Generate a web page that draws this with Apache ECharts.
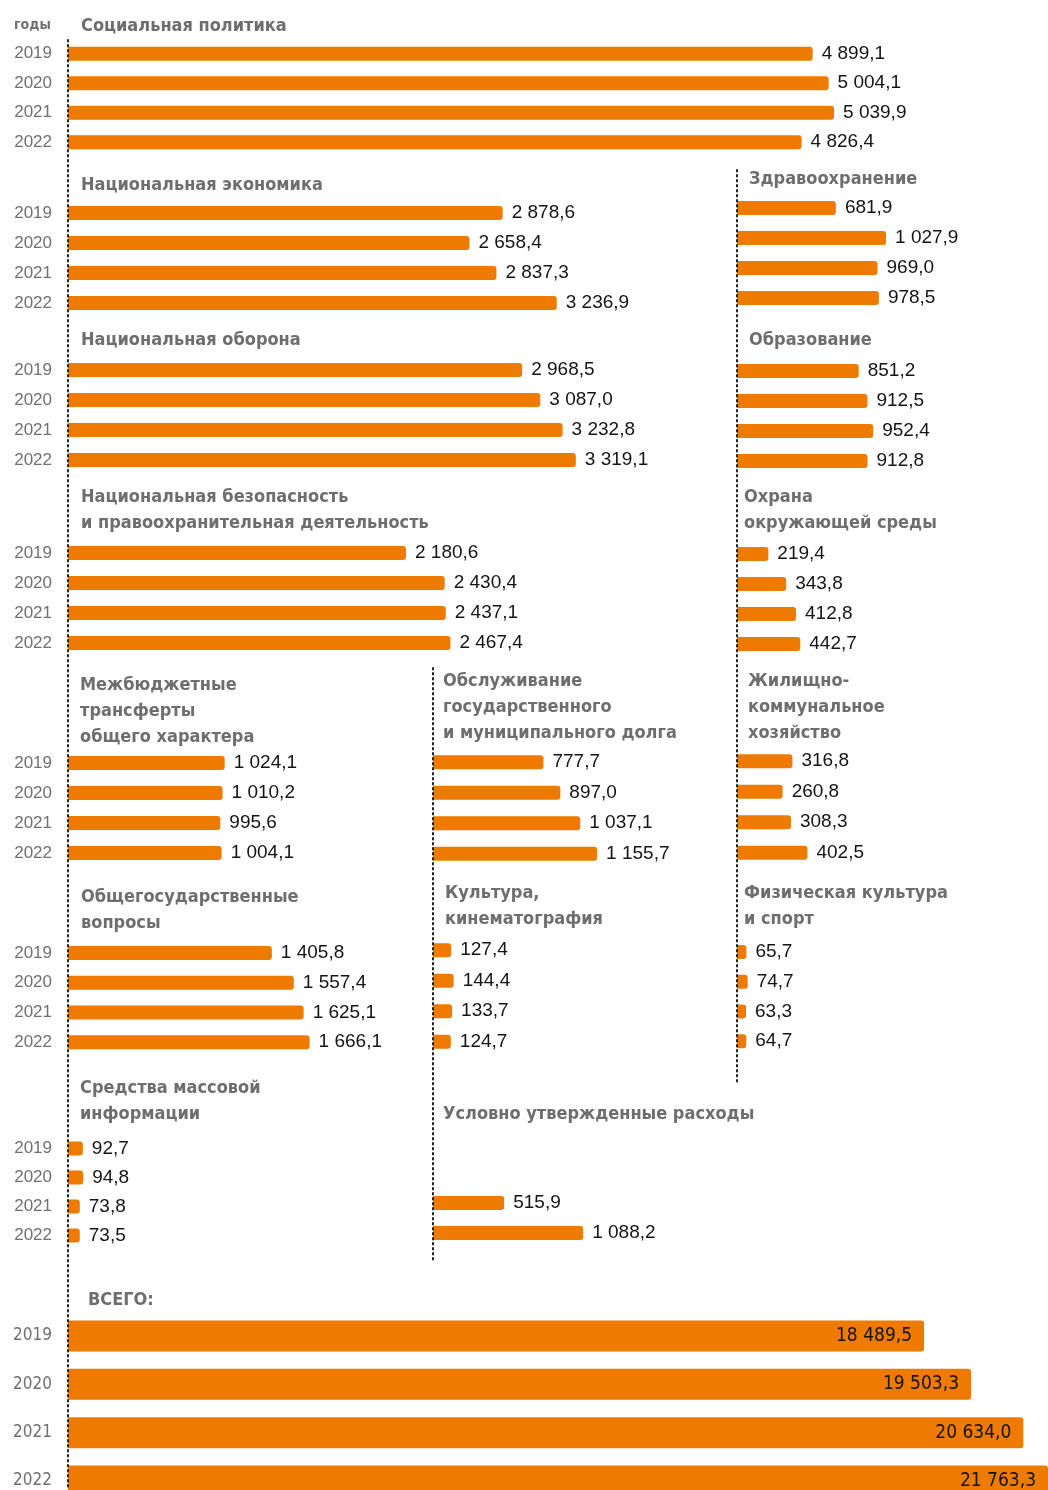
<!DOCTYPE html>
<html>
<head>
<meta charset="utf-8">
<script src="https://cdn.jsdelivr.net/npm/echarts@6/dist/echarts.min.js"></script>
<style>
  html, body { margin: 0; padding: 0; background: #fff; }
  #chart { width: 1048px; height: 1490px; }
</style>
</head>
<body>
<div id="chart"></div>
<script>
// годы
const years = ['2019', '2020', '2021', '2022'];

// расходы по разделам, млрд руб.
const socialPolicy = [4899.1, 5004.1, 5039.9, 4826.4];
const nationalEconomy = [2878.6, 2658.4, 2837.3, 3236.9];
const healthcare = [681.9, 1027.9, 969.0, 978.5];
const defense = [2968.5, 3087.0, 3232.8, 3319.1];
const education = [851.2, 912.5, 952.4, 912.8];
const security = [2180.6, 2430.4, 2437.1, 2467.4];
const environment = [219.4, 343.8, 412.8, 442.7];
const transfers = [1024.1, 1010.2, 995.6, 1004.1];
const debtService = [777.7, 897.0, 1037.1, 1155.7];
const housing = [316.8, 260.8, 308.3, 402.5];
const generalIssues = [1405.8, 1557.4, 1625.1, 1666.1];
const culture = [127.4, 144.4, 133.7, 124.7];
const sport = [65.7, 74.7, 63.3, 64.7];
const media = [92.7, 94.8, 73.8, 73.5];
const conditional = [null, null, 515.9, 1088.2];
const total = [18489.5, 19503.3, 20634.0, 21763.3];

const ORANGE = '#ee7a00';
const NARROW = "'Liberation Sans Narrow','DejaVu Sans Condensed',sans-serif";
const SANS = "'Liberation Sans',Arial,sans-serif";

// 4 899,1
function fmt(v) {
    const parts = v.toFixed(1).split('.');
    const int = parts[0].replace(/\B(?=(\d{3})+(?!\d))/g, ' ');
    return int + ',' + parts[1];
}

// раскладка панелей
const panels = [
    { title: 'Социальная политика', values: socialPolicy, left: 68, top: 39, h: 118, tx: 81, ty: 26, years: true, scale: 0.152 },
    { title: 'Национальная экономика', values: nationalEconomy, left: 68, top: 198, h: 120, tx: 81, ty: 185, years: true, scale: 0.151 },
    { title: 'Здравоохранение', values: healthcare, left: 737, top: 193, h: 120, tx: 749, ty: 179, scale: 0.145 },
    { title: 'Национальная оборона', values: defense, left: 68, top: 355, h: 120, tx: 81, ty: 340, years: true, scale: 0.153 },
    { title: 'Образование', values: education, left: 737, top: 356, h: 120, tx: 749, ty: 340, scale: 0.143 },
    { title: 'Национальная безопасность\nи правоохранительная деятельность', values: security, left: 68, top: 538, h: 120, tx: 81, ty: 497, years: true, scale: 0.155 },
    { title: 'Охрана\nокружающей среды', values: environment, left: 737, top: 539, h: 120, tx: 744, ty: 497, scale: 0.143 },
    { title: 'Межбюджетные\nтрансферты\nобщего характера', values: transfers, left: 68, top: 748, h: 120, tx: 80, ty: 685, years: true, scale: 0.153 },
    { title: 'Обслуживание\nгосударственного\nи муниципального долга', values: debtService, left: 433, top: 747, h: 122, tx: 443, ty: 681, scale: 0.142 },
    { title: 'Жилищно-\nкоммунальное\nхозяйство', values: housing, left: 737, top: 746, h: 122, tx: 748, ty: 681, scale: 0.175 },
    { title: 'Общегосударственные\nвопросы', values: generalIssues, left: 68, top: 938, h: 119, tx: 81, ty: 897, years: true, scale: 0.145 },
    { title: 'Культура,\nкинематография', values: culture, left: 433, top: 935, h: 122, tx: 445, ty: 893, scale: 0.143 },
    { title: 'Физическая культура\nи спорт', values: sport, left: 737, top: 937, h: 119, tx: 744, ty: 893, scale: 0.143 },
    { title: 'Средства массовой\nинформации', values: media, left: 68, top: 1134, h: 116, tx: 80, ty: 1088, years: true, scale: 0.16 },
    { title: 'Условно утвержденные расходы', values: conditional, left: 433, top: 1128, h: 120, tx: 443, ty: 1114, scale: 0.138 },
    // ВСЕГО: крайние категории на границах сетки
    { title: 'ВСЕГО:', values: total, left: 68, top: 1336, h: 145, tx: 88, ty: 1300, years: true, scale: 0.0463, big: true }
];

const chart = echarts.init(document.getElementById('chart'));

const grids = [], xAxes = [], yAxes = [], series = [], titles = [];

panels.forEach((p, i) => {
    const width = p.big ? 980 : (p.left === 68 ? 900 : 300);
    grids.push({ left: p.left, top: p.top, width: width, height: p.h });
    xAxes.push({
        type: 'value', gridIndex: i, min: 0, max: width / p.scale,
        show: false
    });
    yAxes.push({
        type: 'category', gridIndex: i, data: years, inverse: true,
        boundaryGap: !p.big,
        axisLine: { show: false }, axisTick: { show: false },
        axisLabel: {
            show: !!p.years, color: '#707070', margin: 16,
            fontSize: 17,
            fontFamily: p.big ? NARROW : SANS
        }
    });
    series.push({
        type: 'bar', xAxisIndex: i, yAxisIndex: i,
        data: p.values,
        barWidth: p.big ? 31 : 14,
        itemStyle: { color: ORANGE, borderRadius: [0, 3, 3, 0] },
        label: {
            show: true,
            position: p.big ? 'insideRight' : 'right',
            distance: p.big ? 12 : 9,
            color: '#141414',
            fontSize: p.big ? 19 : 19,
            fontFamily: p.big ? NARROW : SANS,
            formatter: (d) => d.value == null ? '' : fmt(d.value)
        }
    });
    titles.push({
        text: p.title, left: p.tx, top: p.ty - 13, padding: 0,
        textStyle: {
            color: '#6e6e6e', fontWeight: 'bold', fontSize: 18,
            fontFamily: NARROW, lineHeight: 26
        }
    });
});

titles.push({
    text: 'годы', left: 14, top: 18, padding: 0,
    textStyle: { color: '#707070', fontWeight: 'bold', fontSize: 14, fontFamily: NARROW }
});

// точечные разделители колонок
function dotted(x, y1, y2) {
    return {
        type: 'line', z: 100,
        shape: { x1: x, y1: y1, x2: x, y2: y2 },
        style: { stroke: '#222', lineWidth: 2, lineDash: [1.5, 3.5], lineCap: 'round' }
    };
}

chart.setOption({
    animation: false,
    title: titles,
    grid: grids,
    xAxis: xAxes,
    yAxis: yAxes,
    series: series,
    graphic: [
        dotted(68, 40, 1490),
        dotted(433, 668, 1260),
        dotted(737, 170, 1085)
    ]
});
</script>
</body>
</html>
